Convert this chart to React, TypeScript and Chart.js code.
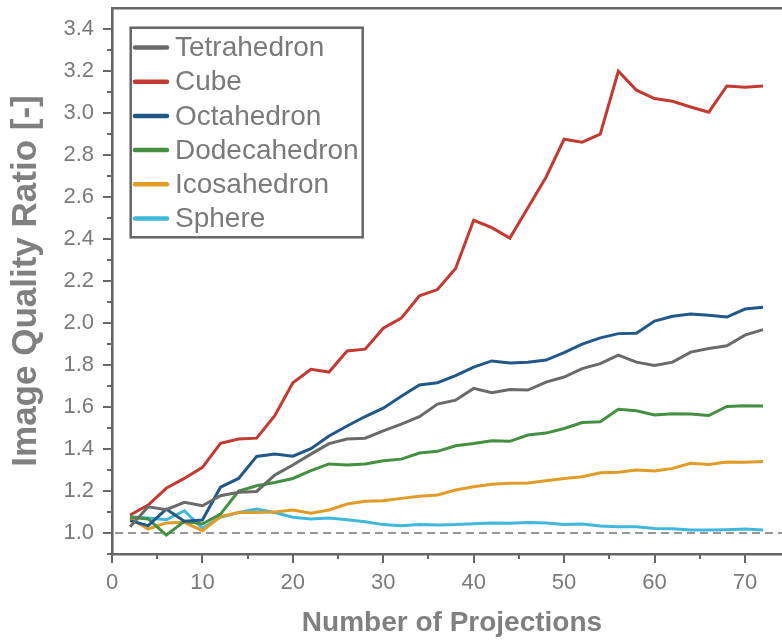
import { useEffect, useRef } from 'react';
import { Chart, registerables } from 'chart.js';

Chart.register(...registerables);

const projections = [2, 4, 6, 8, 10, 12, 14, 16, 18, 20, 22, 24, 26, 28, 30, 32, 34, 36, 38, 40, 42, 44, 46, 48, 50, 52, 54, 56, 58, 60, 62, 64, 66, 68, 70, 72];

const tetrahedron = [1.03, 1.125, 1.111, 1.146, 1.13, 1.178, 1.194, 1.198, 1.276, 1.324, 1.376, 1.426, 1.448, 1.452, 1.487, 1.519, 1.554, 1.614, 1.633, 1.689, 1.668, 1.684, 1.681, 1.719, 1.743, 1.783, 1.807, 1.848, 1.814, 1.798, 1.814, 1.862, 1.879, 1.892, 1.943, 1.969];
const cube = [1.086, 1.133, 1.213, 1.26, 1.313, 1.427, 1.448, 1.452, 1.559, 1.716, 1.78, 1.767, 1.867, 1.876, 1.976, 2.024, 2.13, 2.16, 2.26, 2.49, 2.455, 2.405, 2.55, 2.695, 2.876, 2.862, 2.9, 3.2, 3.11, 3.07, 3.057, 3.03, 3.005, 3.13, 3.124, 3.13];
const octahedron = [1.059, 1.035, 1.114, 1.056, 1.062, 1.218, 1.26, 1.365, 1.376, 1.366, 1.402, 1.462, 1.51, 1.555, 1.595, 1.652, 1.705, 1.716, 1.75, 1.79, 1.82, 1.81, 1.814, 1.824, 1.86, 1.9, 1.93, 1.95, 1.952, 2.01, 2.033, 2.043, 2.038, 2.029, 2.067, 2.076];
const dodecahedron = [1.075, 1.067, 0.99, 1.056, 1.043, 1.09, 1.2, 1.225, 1.241, 1.26, 1.297, 1.329, 1.324, 1.329, 1.344, 1.352, 1.381, 1.389, 1.416, 1.427, 1.44, 1.437, 1.467, 1.476, 1.498, 1.526, 1.53, 1.59, 1.582, 1.562, 1.568, 1.567, 1.56, 1.603, 1.606, 1.605];
const icosahedron = [1.07, 1.019, 1.048, 1.051, 1.011, 1.078, 1.098, 1.098, 1.1, 1.11, 1.094, 1.11, 1.138, 1.151, 1.154, 1.165, 1.175, 1.181, 1.205, 1.22, 1.232, 1.237, 1.238, 1.249, 1.26, 1.268, 1.287, 1.289, 1.3, 1.295, 1.308, 1.332, 1.327, 1.338, 1.337, 1.341];
const sphere = [1.078, 1.071, 1.063, 1.106, 1.022, 1.075, 1.098, 1.114, 1.098, 1.075, 1.067, 1.072, 1.063, 1.054, 1.04, 1.035, 1.04, 1.038, 1.04, 1.044, 1.048, 1.046, 1.05, 1.048, 1.04, 1.043, 1.033, 1.03, 1.03, 1.022, 1.02, 1.014, 1.014, 1.016, 1.019, 1.014];

const seriesNames = ['Tetrahedron', 'Cube', 'Octahedron', 'Dodecahedron', 'Icosahedron', 'Sphere'];
const seriesValues = [tetrahedron, cube, octahedron, dodecahedron, icosahedron, sphere];
const seriesColors = ['#6a6a6a', '#c33a32', '#22578a', '#449041', '#e29b26', '#40b7dc'];

const xMajorTicks = [0, 10, 20, 30, 40, 50, 60, 70];
const xMinorTicks = [5, 15, 25, 35, 45, 55, 65];
const yMajorTicks = [1.0, 1.2, 1.4, 1.6, 1.8, 2.0, 2.2, 2.4, 2.6, 2.8, 3.0, 3.2, 3.4];
const yMinorTicks = [0.9, 1.1, 1.3, 1.5, 1.7, 1.9, 2.1, 2.3, 2.5, 2.7, 2.9, 3.1, 3.3];
const referenceLevel = 1.0;

const xTitle = 'Number of Projections';
const yTitle = 'Image Quality Ratio [-]';

const FONT = '"Liberation Sans", Arial, Helvetica, sans-serif';
const AXIS_COLOR = '#666666';
const TEXT_COLOR = '#7a7a7a';

const decorPlugin = {
  id: 'decor',
  beforeDatasetsDraw(chart: any) {
    const { ctx, chartArea, scales } = chart;
    const y = scales.y.getPixelForValue(referenceLevel);
    ctx.save();
    ctx.strokeStyle = '#777777';
    ctx.lineWidth = 1.6;
    ctx.setLineDash([8, 5]);
    ctx.beginPath();
    ctx.moveTo(chartArea.left + 3, y);
    ctx.lineTo(chartArea.right, y);
    ctx.stroke();
    ctx.restore();
  },
  afterDraw(chart: any) {
    const { ctx, chartArea, scales } = chart;
    const xs = scales.x;
    const ys = scales.y;
    ctx.save();
    ctx.strokeStyle = AXIS_COLOR;
    ctx.lineWidth = 2.5;
    // top frame line
    ctx.beginPath();
    ctx.moveTo(chartArea.left - 1, chartArea.top);
    ctx.lineTo(chartArea.right, chartArea.top);
    ctx.stroke();
    // tick marks
    ctx.lineWidth = 2;
    const bottom = chartArea.bottom;
    const left = chartArea.left;
    xMajorTicks.forEach((v) => {
      const px = Math.round(xs.getPixelForValue(v));
      ctx.beginPath();
      ctx.moveTo(px, bottom);
      ctx.lineTo(px, bottom + 9);
      ctx.stroke();
    });
    xMinorTicks.forEach((v) => {
      const px = Math.round(xs.getPixelForValue(v));
      ctx.beginPath();
      ctx.moveTo(px, bottom);
      ctx.lineTo(px, bottom + 5);
      ctx.stroke();
    });
    yMajorTicks.forEach((v) => {
      const py = Math.round(ys.getPixelForValue(v));
      ctx.beginPath();
      ctx.moveTo(left, py);
      ctx.lineTo(left - 9, py);
      ctx.stroke();
    });
    yMinorTicks.forEach((v) => {
      const py = Math.round(ys.getPixelForValue(v));
      ctx.beginPath();
      ctx.moveTo(left, py);
      ctx.lineTo(left - 5, py);
      ctx.stroke();
    });

    // axis titles
    ctx.fillStyle = '#808080';
    ctx.textAlign = 'center';
    ctx.textBaseline = 'middle';
    ctx.font = `bold 28px ${FONT}`;
    ctx.fillText(xTitle, 452, 623);
    ctx.save();
    ctx.font = `bold 35px ${FONT}`;
    ctx.translate(26, 281);
    ctx.rotate(-Math.PI / 2);
    ctx.fillText(yTitle, 0, 0);
    ctx.restore();

    // legend
    const bx = 130.7, by = 27.7, bw = 232, bh = 209.6;
    ctx.fillStyle = '#ffffff';
    ctx.fillRect(bx, by, bw, bh);
    ctx.strokeStyle = AXIS_COLOR;
    ctx.lineWidth = 2.5;
    ctx.strokeRect(bx, by, bw, bh);
    ctx.font = `28px ${FONT}`;
    ctx.textAlign = 'left';
    ctx.textBaseline = 'middle';
    chart.data.datasets.forEach((ds: any, i: number) => {
      const cy = 47.5 + i * 34.2;
      ctx.strokeStyle = ds.borderColor;
      ctx.lineWidth = 4.5;
      ctx.lineCap = 'round';
      ctx.beginPath();
      ctx.moveTo(135, cy);
      ctx.lineTo(167, cy);
      ctx.stroke();
      ctx.fillStyle = TEXT_COLOR;
      ctx.fillText(ds.label, 175, cy + 1);
    });
    ctx.restore();
  },
};

export default function App() {
  const canvasRef = useRef<HTMLCanvasElement | null>(null);

  useEffect(() => {
    const canvas = canvasRef.current;
    if (!canvas) return;
    const chart = new Chart(canvas, {
      type: 'line',
      data: {
        datasets: seriesNames.map((name, i) => ({
          label: name,
          data: projections.map((x, j) => ({ x, y: seriesValues[i][j] })),
          borderColor: seriesColors[i],
          backgroundColor: seriesColors[i],
          borderWidth: 3,
          pointRadius: 0,
          pointHoverRadius: 0,
          tension: 0,
          fill: false,
        })),
      },
      options: {
        animation: false,
        responsive: false,
        devicePixelRatio: 1,
        events: [],
        layout: { padding: { top: 8.3, left: 0, right: 0, bottom: 0 } },
        plugins: {
          legend: { display: false },
          tooltip: { enabled: false },
          title: { display: false },
        },
        scales: {
          x: {
            type: 'linear',
            min: 0,
            max: 74.1,
            afterFit: (s: any) => {
              s.height = 88;
              s.paddingLeft = 0;
              s.paddingRight = 0;
            },
            afterBuildTicks: (s: any) => {
              s.ticks = xMajorTicks.map((v) => ({ value: v }));
            },
            ticks: {
              color: TEXT_COLOR,
              font: { family: FONT, size: 22 },
              padding: 16,
              maxRotation: 0,
              autoSkip: false,
              callback: (v: any) => String(v),
            },
            grid: { display: false, drawTicks: false },
            border: { display: true, color: AXIS_COLOR, width: 2.6 },
            title: { display: false },
          },
          y: {
            type: 'linear',
            min: 0.9,
            max: 3.5,
            afterFit: (s: any) => {
              s.width = 112;
              s.paddingTop = 0;
              s.paddingBottom = 0;
            },
            afterBuildTicks: (s: any) => {
              s.ticks = yMajorTicks.map((v) => ({ value: v }));
            },
            ticks: {
              color: TEXT_COLOR,
              font: { family: FONT, size: 22 },
              padding: 18,
              autoSkip: false,
              callback: (v: any) => Number(v).toFixed(1),
            },
            grid: { display: false, drawTicks: false },
            border: { display: true, color: AXIS_COLOR, width: 2.6 },
            title: { display: false },
          },
        },
      },
      plugins: [decorPlugin],
    });
    return () => chart.destroy();
  }, []);

  return (
    <div style={{ position: 'absolute', left: 0, top: 0, width: 782, height: 642, background: '#ffffff' }}>
      <canvas ref={canvasRef} width={782} height={642} style={{ display: 'block' }} />
    </div>
  );
}
